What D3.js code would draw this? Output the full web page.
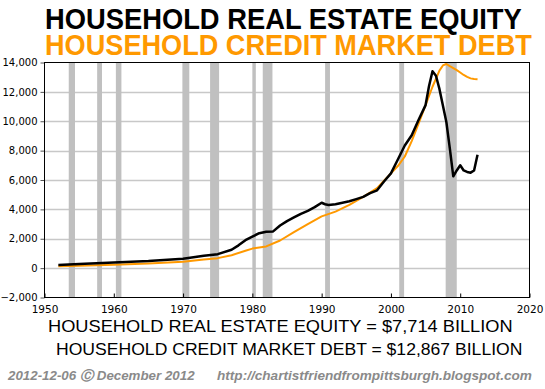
<!DOCTYPE html>
<html>
<head>
<meta charset="utf-8">
<script src="https://cdn.jsdelivr.net/npm/d3@7"></script>
<style>
  html, body { margin: 0; padding: 0; background: #fff; }
</style>
</head>
<body>
<div class="container"></div>
<script>
"use strict";
// household real estate equity (black), $ billions
const equityYears = [1952, 1955, 1960, 1965, 1970, 1973, 1975, 1977, 1978, 1979, 1980, 1981, 1982, 1983, 1984, 1985, 1986, 1987, 1988, 1989, 1990, 1990.5, 1991, 1992, 1993, 1994, 1995, 1996, 1997, 1998, 1999, 2000, 2001, 2002, 2003, 2004, 2005, 2005.5, 2006, 2006.5, 2007, 2008, 2008.5, 2009, 2009.5, 2010, 2010.5, 2011, 2011.5, 2012, 2012.5];
const equityValues = [220, 280, 380, 480, 640, 850, 950, 1250, 1550, 1900, 2150, 2380, 2480, 2500, 2900, 3200, 3450, 3700, 3900, 4150, 4450, 4350, 4300, 4350, 4450, 4550, 4700, 4850, 5100, 5300, 5900, 6450, 7400, 8350, 9050, 10100, 11100, 12400, 13400, 13100, 12200, 9950, 8150, 6250, 6650, 7000, 6650, 6550, 6500, 6650, 7714];
// household credit market debt (orange)
const debtYears = [1952, 1955, 1960, 1965, 1970, 1973, 1975, 1977, 1979, 1980, 1982, 1984, 1986, 1988, 1990, 1992, 1994, 1996, 1998, 1999, 2000, 2001, 2002, 2003, 2004, 2005, 2006, 2007, 2007.5, 2008, 2008.5, 2009, 2009.5, 2010, 2010.5, 2011, 2011.5, 2012, 2012.5];
const debtValues = [120, 170, 230, 320, 430, 580, 680, 880, 1180, 1330, 1480, 1880, 2450, 3000, 3520, 3850, 4300, 4850, 5450, 5950, 6450, 6950, 7600, 8650, 9850, 11100, 12350, 13450, 13800, 13900, 13750, 13620, 13480, 13320, 13150, 13020, 12920, 12880, 12867];
// recessions
const recessionStarts = [1953.5, 1957.6, 1960.3, 1969.9, 1973.9, 1980.0, 1981.5, 1990.5, 2001.2, 2007.9];
const recessionEnds = [1954.4, 1958.3, 1961.1, 1970.9, 1975.2, 1980.5, 1982.9, 1991.2, 2001.9, 2009.5];
const xTicks = [1950, 1960, 1970, 1980, 1990, 2000, 2010, 2020];
const yTicks = [-2000, 0, 2000, 4000, 6000, 8000, 10000, 12000, 14000];

const width = 545;
const height = 389;
const plotLeft = 44.5, plotRight = 529.5, plotTop = 62.5, plotBottom = 297.5;

const svg = d3.select(".container")
    .append("svg")
    .attr("xmlns", "http://www.w3.org/2000/svg")
    .attr("width", width)
    .attr("height", height)
    .attr("viewBox", `0 0 ${width} ${height}`)
    .style("display", "block");

svg.append("rect")
    .attr("width", width)
    .attr("height", height)
    .attr("fill", "#ffffff");

const x = d3.scaleLinear().domain([1950, 2020]).range([plotLeft, plotRight]);
const y = d3.scaleLinear().domain([-2000, 14000]).range([plotBottom, plotTop]);

// squeeze a text horizontally so it spans the wanted width
const fitText = (sel, x0, y0, w) => {
    const natural = sel.node().getComputedTextLength();
    sel.attr("transform", `translate(${x0},${y0}) scale(${w / natural},1)`);
};

// titles
const title1 = svg.append("text")
    .style("font-family", "'Liberation Sans', Arial, sans-serif")
    .style("font-weight", "bold")
    .style("font-size", "30px")
    .attr("fill", "#000000")
    .text("HOUSEHOLD REAL ESTATE EQUITY");
fitText(title1, 45, 29, 477);
const title2 = svg.append("text")
    .style("font-family", "'Liberation Sans', Arial, sans-serif")
    .style("font-weight", "bold")
    .style("font-size", "30px")
    .attr("fill", "#ff9900")
    .text("HOUSEHOLD CREDIT MARKET DEBT");
fitText(title2, 45, 55, 487);

// grid
svg.append("g")
    .selectAll("line")
    .data(yTicks.slice(1, -1))
    .join("line")
    .attr("x1", plotLeft)
    .attr("x2", plotRight)
    .attr("y1", d => Math.round(y(d)) + 0.5)
    .attr("y2", d => Math.round(y(d)) + 0.5)
    .attr("stroke", "#c8c8c8")
    .attr("stroke-width", 1.5);

// recession bars
svg.append("g")
    .selectAll("rect")
    .data(recessionStarts.map((s, i) => [s, recessionEnds[i]]))
    .join("rect")
    .attr("x", d => x(d[0]))
    .attr("width", d => x(d[1]) - x(d[0]))
    .attr("y", plotTop)
    .attr("height", plotBottom - plotTop)
    .attr("fill", "#c0c0c0");

// y axis labels and ticks
const yAxis = svg.append("g")
    .attr("transform", `translate(${plotLeft},0)`)
    .call(d3.axisLeft(y).tickValues(yTicks).tickSize(4).tickPadding(3).tickFormat(d3.format(",")));
yAxis.select(".domain").remove();
yAxis.selectAll("line").attr("stroke", "#555");
yAxis.selectAll("text")
    .style("font-family", "'DejaVu Sans', Verdana, sans-serif")
    .style("font-size", "10px")
    .attr("fill", "#000");

// x axis labels and inner ticks
const xAxis = svg.append("g")
    .attr("transform", `translate(0,${plotBottom})`)
    .call(d3.axisBottom(x).tickValues(xTicks).tickSize(-4).tickPadding(8).tickFormat(d3.format("d")));
xAxis.select(".domain").remove();
xAxis.selectAll("line").attr("stroke", "#000");
xAxis.selectAll("text")
    .style("font-family", "'DejaVu Sans', Verdana, sans-serif")
    .style("font-size", "10.5px")
    .attr("fill", "#000");

// series
const line = d3.line().x(d => x(d[0])).y(d => y(d[1]));
svg.append("path")
    .datum(debtYears.map((t, i) => [t, debtValues[i]]))
    .attr("d", line)
    .attr("fill", "none")
    .attr("stroke", "#ff9900")
    .attr("stroke-width", 2)
    .attr("stroke-linejoin", "round");
svg.append("path")
    .datum(equityYears.map((t, i) => [t, equityValues[i]]))
    .attr("d", line)
    .attr("fill", "none")
    .attr("stroke", "#000000")
    .attr("stroke-width", 2.5)
    .attr("stroke-linejoin", "round");

// frame
svg.append("rect")
    .attr("x", plotLeft)
    .attr("y", plotTop)
    .attr("width", plotRight - plotLeft)
    .attr("height", plotBottom - plotTop)
    .attr("fill", "none")
    .attr("stroke", "#000")
    .attr("stroke-width", 1);

// latest values
const note1 = svg.append("text")
    .style("font-family", "'Liberation Sans', Arial, sans-serif")
    .style("font-size", "16px")
    .attr("fill", "#000")
    .text("HOUSEHOLD REAL ESTATE EQUITY = $7,714 BILLION");
fitText(note1, 48, 332, 465);
const note2 = svg.append("text")
    .style("font-family", "'Liberation Sans', Arial, sans-serif")
    .style("font-size", "16px")
    .attr("fill", "#000")
    .text("HOUSEHOLD CREDIT MARKET DEBT = $12,867 BILLION");
fitText(note2, 56, 355, 467);

// footer
const foot1 = svg.append("text")
    .style("font-family", "'Liberation Sans', Arial, sans-serif")
    .style("font-style", "italic")
    .style("font-weight", "bold")
    .style("font-size", "13px")
    .attr("fill", "#8a8a8a")
    .text("2012-12-06 \u24B8 December 2012");
fitText(foot1, 8, 380, 187);
const foot2 = svg.append("text")
    .style("font-family", "'Liberation Sans', Arial, sans-serif")
    .style("font-style", "italic")
    .style("font-weight", "bold")
    .style("font-size", "13px")
    .attr("fill", "#8a8a8a")
    .text("http://chartistfriendfrompittsburgh.blogspot.com");
fitText(foot2, 217, 380, 315);
</script>
</body>
</html>
